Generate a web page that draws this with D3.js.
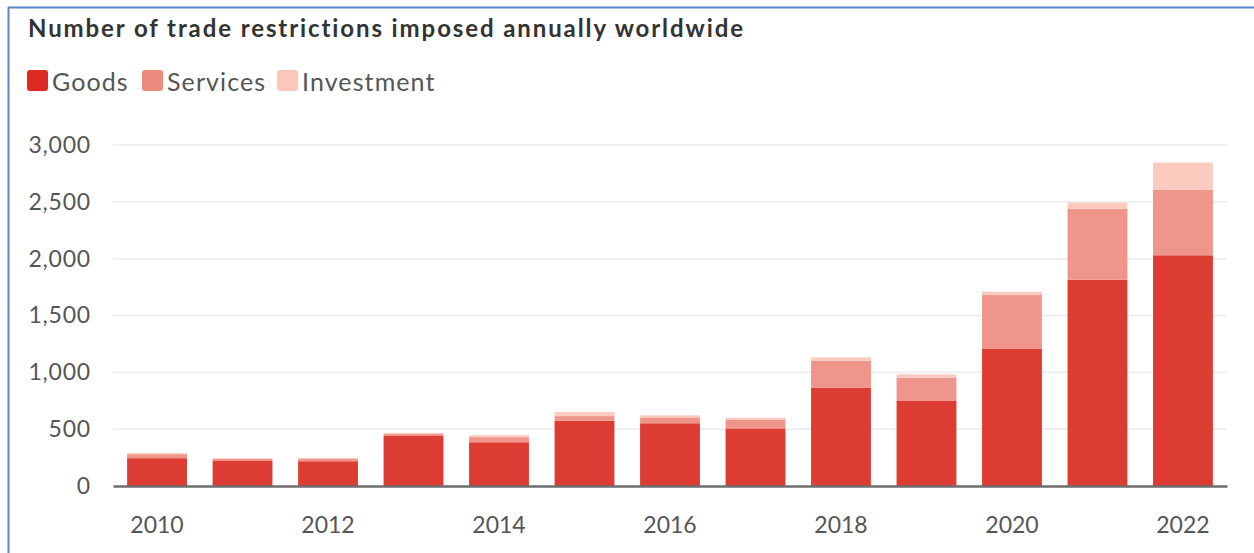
<!DOCTYPE html>
<html>
<head>
<meta charset="utf-8">
<script src="https://cdn.jsdelivr.net/npm/d3@7"></script>
<style>
  body { margin: 0; background: #fff; }
  svg { display: block; font-family: "Lato", "Noto Sans", sans-serif; }
</style>
</head>
<body>
<div id="chart"></div>
<script>
// values (estimates)
const years = ["2010","2011","2012","2013","2014","2015","2016","2017","2018","2019","2020","2021","2022"];
const goods = [245, 220, 218, 440, 385, 575, 552, 507, 865, 748, 1210, 1815, 2030];
const services = [35, 18, 22, 18, 45, 40, 52, 74, 238, 205, 470, 625, 575];
const investment = [10, 7, 8, 10, 17, 35, 18, 20, 29, 30, 30, 53, 240];
const yTicks = [0, 500, 1000, 1500, 2000, 2500, 3000];
const xTickLabels = ["2010","2012","2014","2016","2018","2020","2022"];

const seriesNames = ["Goods", "Services", "Investment"];
const barColors = ["#dd3c33", "#f0958a", "#fbcbc0"];
const legendColors = ["#dc2a20", "#ef8a7e", "#fcc6b9"];

const W = 1254, H = 553;
const margin = {top: 145, right: 27, bottom: 67, left: 113};
const w = W - margin.left - margin.right;
const h = H - margin.top - margin.bottom;

const svg = d3.select("#chart")
              .append("svg")
              .attr("width", W)
              .attr("height", H);

// blue frame (top and left edges visible in the reference)
svg.append("line")
   .attr("x1", 8).attr("x2", W).attr("y1", 7.5).attr("y2", 7.5)
   .attr("stroke", "#5b86c9").attr("stroke-width", 2);
svg.append("line")
   .attr("x1", 8.5).attr("x2", 8.5).attr("y1", 7).attr("y2", H)
   .attr("stroke", "#5b86c9").attr("stroke-width", 2);

// title
svg.append("text")
   .attr("x", 28)
   .attr("y", 37)
   .attr("font-size", 24)
   .attr("font-weight", 700)
   .attr("letter-spacing", 1.9)
   .attr("fill", "#333")
   .text("Number of trade restrictions imposed annually worldwide");

// legend
const legendX = [27, 142, 277];
const legend = svg.selectAll(".legend")
                  .data(seriesNames)
                  .enter()
                  .append("g")
                  .attr("class", "legend")
                  .attr("transform", (d, i) => `translate(${legendX[i]},70)`);
legend.append("rect")
      .attr("width", 21).attr("height", 21)
      .attr("rx", 3)
      .attr("fill", (d, i) => legendColors[i]);
legend.append("text")
      .attr("x", 25)
      .attr("y", 21)
      .attr("font-size", 25)
      .attr("letter-spacing", 1.1)
      .attr("fill", "#555")
      .text(d => d);

const g = svg.append("g")
             .attr("transform", `translate(${margin.left},${margin.top})`);

const x = d3.scaleBand()
            .domain(years)
            .range([0, w])
            .paddingInner(0.3)
            .paddingOuter(0.165);

const y = d3.scaleLinear()
            .domain([0, 3000])
            .range([h, 0]);

// gridlines
g.selectAll(".grid")
 .data(yTicks.filter(d => d > 0))
 .enter()
 .append("line")
 .attr("x1", 0).attr("x2", w)
 .attr("y1", d => y(d)).attr("y2", d => y(d))
 .attr("stroke", "#ebebeb")
 .attr("stroke-width", 1.5);

// y axis labels
const yAxis = g.append("g")
               .call(d3.axisLeft(y).tickValues(yTicks).tickSize(0).tickPadding(22).tickFormat(d3.format(",")));
yAxis.select(".domain").remove();
yAxis.selectAll("text")
     .attr("font-size", 23)
     .attr("letter-spacing", 0.8)
     .attr("font-family", "Lato, 'Noto Sans', sans-serif")
     .attr("fill", "#555");

// stacked bars
const table = years.map((yr, i) => ({year: yr, Goods: goods[i], Services: services[i], Investment: investment[i]}));
const stacked = d3.stack().keys(seriesNames)(table);

g.selectAll(".series")
 .data(stacked)
 .enter()
 .append("g")
 .attr("fill", (d, i) => barColors[i])
 .selectAll("rect")
 .data(d => d)
 .enter()
 .append("rect")
 .attr("x", d => x(d.data.year))
 .attr("y", d => y(d[1]))
 .attr("width", x.bandwidth())
 .attr("height", d => y(d[0]) - y(d[1]));

// x axis
const xAxis = g.append("g")
               .attr("transform", `translate(0,${h})`)
               .call(d3.axisBottom(x).tickValues(xTickLabels).tickSize(0).tickPadding(31));
xAxis.select(".domain")
     .attr("stroke", "#6e6e6e")
     .attr("stroke-width", 2.5);
xAxis.selectAll("text")
     .attr("font-size", 23)
     .attr("font-family", "Lato, 'Noto Sans', sans-serif")
     .attr("fill", "#555");
</script>
</body>
</html>
